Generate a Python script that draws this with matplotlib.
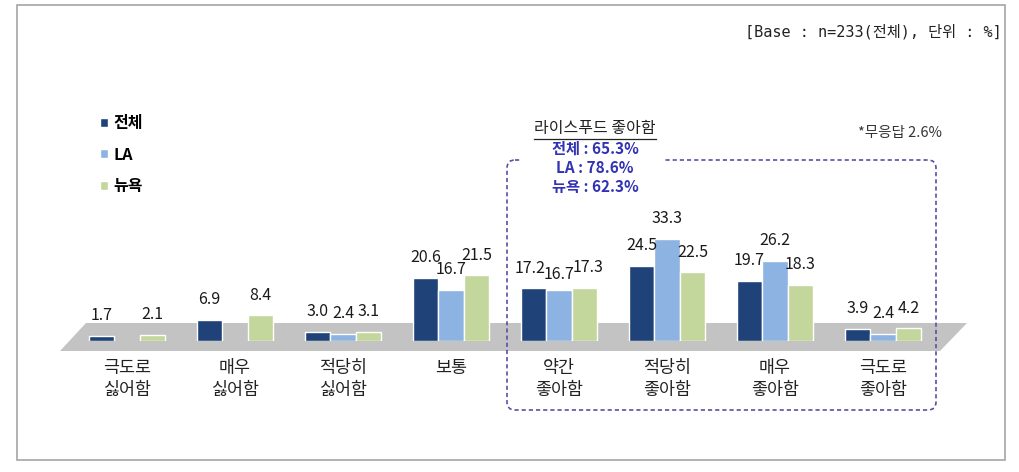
import matplotlib
matplotlib.use("Agg")
import matplotlib.pyplot as plt
import numpy as np
from matplotlib.patches import Polygon, Rectangle, FancyBboxPatch

plt.rcParams['font.family'] = ['Noto Sans CJK KR', 'DejaVu Sans']

categories = ["극도로\n싫어함", "매우\n싫어함", "적당히\n싫어함", "보통",
              "약간\n좋아함", "적당히\n좋아함", "매우\n좋아함", "극도로\n좋아함"]
series_names = ["전체", "LA", "뉴욕"]
total = [1.7, 6.9, 3.0, 20.6, 17.2, 24.5, 19.7, 3.9]
la = [np.nan, np.nan, 2.4, 16.7, 16.7, 33.3, 26.2, 2.4]
ny = [2.1, 8.4, 3.1, 21.5, 17.3, 22.5, 18.3, 4.2]
colors = ["#1F4379", "#8DB3E2", "#C3D69B"]

W, H = 1019, 472
fig = plt.figure(figsize=(W / 100, H / 100), dpi=100)

# background / decoration axes in pixel coordinates
bg = fig.add_axes([0, 0, 1, 1])
bg.set_xlim(0, W)
bg.set_ylim(H, 0)
bg.axis('off')
bg.add_patch(Rectangle((17, 5), 988, 455, fill=False, ec="#a6a6a6", lw=1.2))
bg.add_patch(Polygon([(60, 351), (86, 323), (967, 323), (940, 351)],
                     closed=True, fc="#c3c3c3", ec="none"))
bg.add_patch(FancyBboxPatch((507, 160), 429, 250,
                            boxstyle="round,pad=0,rounding_size=8",
                            fill=False, ec="#5a4fa6", lw=1.2, ls=(0, (2.5, 1.8))))
bg.add_patch(Rectangle((522, 150), 143, 45, fc="white", ec="none", zorder=3))
bg.text(595, 129, "라이스푸드 좋아함", ha='center', va='center', fontsize=11.5,
        color="#222222", zorder=4)
bg.plot([534, 656], [139, 139], color="#222222", lw=0.9, zorder=4)
stats = ["전체 : 65.3%", "LA : 78.6%", "뉴욕 : 62.3%"]
for i, s in enumerate(stats):
    bg.text(595, 149 + 19 * i, s, ha='center', va='center', fontsize=11,
            fontweight='bold', color="#3232B4", zorder=4)
bg.text(942, 133, "*무응답 2.6%", ha='right', va='center', fontsize=10.5,
        color="#333333")
bg.text(1002, 32, "[Base : n=233(전체), 단위 : %]", ha='right', va='center',
        fontsize=11, color="#222222",
        family=['DejaVu Sans Mono', 'Noto Sans CJK KR'])

# data axes
px_per_unit = 3.06
base_px = 341
left_px = 127 - 54
width_px = 108 * 8
ymax = 40
ax = fig.add_axes([left_px / W, (H - base_px) / H, width_px / W,
                   ymax * px_per_unit / H])
ax.set_xlim(-0.5, 7.5)
ax.set_ylim(0, ymax)
ax.axis('off')
ax.patch.set_alpha(0)

x = np.arange(len(categories))
bw = 0.236
handles = []
for k, (vals, c) in enumerate(zip([total, la, ny], colors)):
    xs = x + (k - 1) * bw
    bars = ax.bar(xs, vals, width=bw, color=c, edgecolor="white", lw=1,
                  label=series_names[k])
    handles.append(bars)
    for i, (xi, v) in enumerate(zip(xs, vals)):
        if np.isnan(v):
            continue
        # small nudges where neighbouring labels crowd each other
        dx = 0
        dy = 0
        if i == 4:
            dx = (k - 1) * 2.5
            dy = -3.5 if k == 1 else 0
        ax.annotate(f"{v:.1f}", (xi, v), xytext=(dx, 14.5 + dy),
                    textcoords='offset points', ha='center', va='center',
                    fontsize=11.5, color="#1a1a1a", annotation_clip=False)

for xi, lab in zip(x, categories):
    ax.annotate(lab, (xi, 0), xytext=(0, -13), textcoords='offset points',
                ha='center', va='top', fontsize=12.5, color="#222222",
                linespacing=1.3, annotation_clip=False)

ax.legend(handles=handles, labels=series_names, loc='upper left',
          bbox_to_anchor=(86 / W, 1 - 101 / H), bbox_transform=fig.transFigure,
          frameon=False, handlelength=0.5, handleheight=0.5,
          handletextpad=0.3, labelspacing=0.95, prop={'weight': 'bold', 'size': 11.5})

fig.savefig("out.png", dpi=100)
